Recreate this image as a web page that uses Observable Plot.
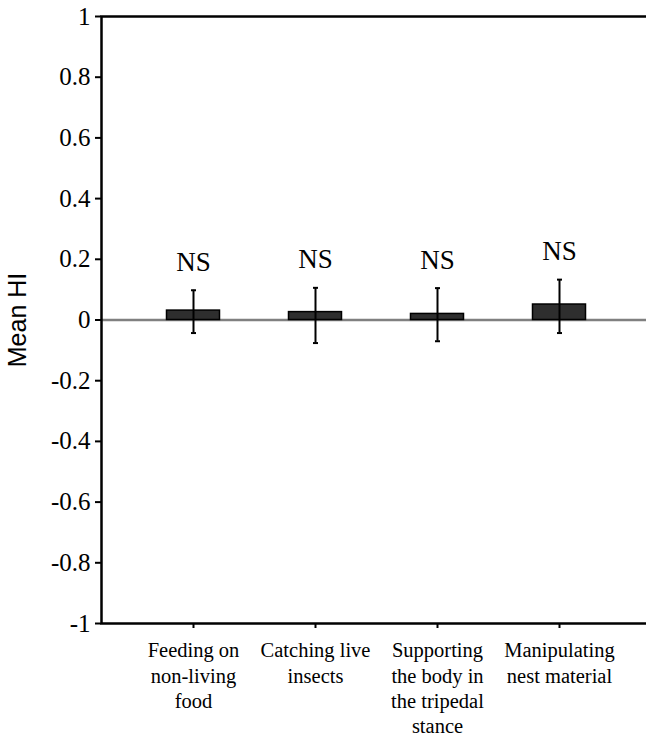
<!DOCTYPE html>
<html>
<head>
<meta charset="utf-8">
<script src="https://cdn.jsdelivr.net/npm/d3@7"></script>
<script src="https://cdn.jsdelivr.net/npm/@observablehq/plot@0.6"></script>
<style>
  body { margin: 0; background: #fff; }
  #chart svg { display: block; }
</style>
</head>
<body>
<div id="chart"></div>
<script>
// Handedness index (HI) per behaviour: mean with error-bar limits
const categories = [
  "Feeding on non-living food",
  "Catching live insects",
  "Supporting the body in the tripedal stance",
  "Manipulating nest material"
];
const tickLabels = [
  "Feeding on\nnon-living\nfood",
  "Catching live\ninsects",
  "Supporting\nthe body in\nthe tripedal\nstance",
  "Manipulating\nnest material"
];
const meanHI = [0.031, 0.026, 0.02, 0.051];
const errLow = [-0.043, -0.076, -0.07, -0.043];
const errHigh = [0.098, 0.106, 0.105, 0.133];
const significance = ["NS", "NS", "NS", "NS"];
const yTicks = [1, 0.8, 0.6, 0.4, 0.2, 0, -0.2, -0.4, -0.6, -0.8, -1];

const rows = categories.map((c, i) => ({
  category: c,
  mean: meanHI[i],
  low: errLow[i],
  high: errHigh[i],
  sig: significance[i]
}));

const serif = "'Liberation Serif', 'Times New Roman', Times, serif";
const sans = "'Liberation Sans', Arial, sans-serif";

// short horizontal stroke used as the error-bar end cap
const capSymbol = {
  draw(context, size) {
    const r = Math.sqrt(size / Math.PI);
    context.moveTo(-r, 0);
    context.lineTo(r, 0);
  }
};

const chart = Plot.plot({
  width: 646,
  height: 738,
  marginLeft: 101,
  marginRight: -3,
  marginTop: 16,
  marginBottom: 115,
  style: { background: "#fff", color: "#000", fontFamily: serif },
  x: { type: "band", domain: categories, range: [132, 620], padding: 0 },
  y: { domain: [-1, 1] },
  marks: [
    // zero reference line
    Plot.ruleY([0], { stroke: "#808080", strokeWidth: 2.5 }),
    // mean HI bars
    Plot.barY(rows, {
      x: "category", y: "mean",
      fill: "#2e2e2e", stroke: "#000", strokeWidth: 1.5,
      insetLeft: 34.5, insetRight: 34.5
    }),
    // error bars with short end caps
    Plot.ruleX(rows, { x: "category", y1: "low", y2: "high", stroke: "#000", strokeWidth: 2 }),
    Plot.dot(rows, { x: "category", y: "low", symbol: capSymbol, r: 2.5, fill: "none", stroke: "#000", strokeWidth: 2 }),
    Plot.dot(rows, { x: "category", y: "high", symbol: capSymbol, r: 2.5, fill: "none", stroke: "#000", strokeWidth: 2 }),
    // significance labels
    Plot.text(rows, {
      x: "category", y: "high", text: "sig", dy: -28,
      fontSize: 27, fontFamily: serif, fill: "#000"
    }),
    Plot.axisY({
      ticks: yTicks, tickFormat: d => String(d),
      tickSize: 6, tickPadding: 5, fontSize: 25, fontFamily: serif,
      strokeWidth: 2, label: null
    }),
    Plot.axisX({
      tickFormat: d => tickLabels[categories.indexOf(d)],
      tickSize: 5, tickPadding: 11, fontSize: 20.5, lineHeight: 1.23, fontFamily: serif,
      strokeWidth: 2, label: null
    }),
    Plot.frame({ stroke: "#000", strokeWidth: 2.5 }),
    Plot.text(["Mean HI"], {
      frameAnchor: "left", textAnchor: "middle", rotate: -90, dx: -84,
      fontSize: 25, fontFamily: sans, fill: "#000"
    })
  ]
});

document.getElementById("chart").append(chart);

// settle text layout once the chart is in the document
chart.querySelectorAll("g[aria-label]").forEach(g => getComputedStyle(g).fontFamily);
chart.querySelectorAll("text").forEach(t => { getComputedStyle(t).fontFamily; t.getBBox(); });
</script>
</body>
</html>
